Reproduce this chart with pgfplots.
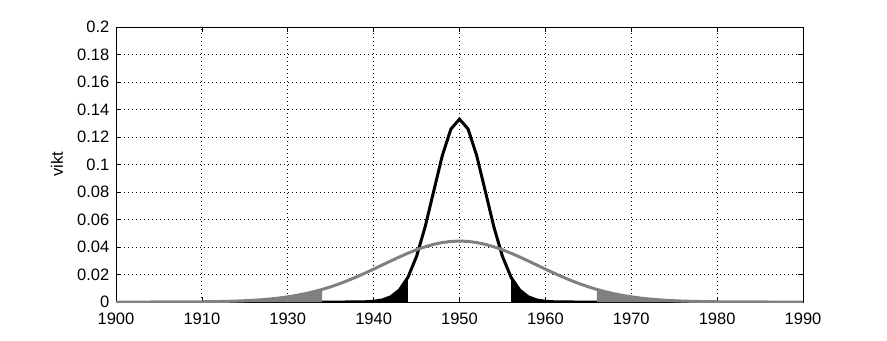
\documentclass[border=0pt]{standalone}
\usepackage{fontspec}
\setmainfont{Liberation Sans}
\usepackage{pgfplots}
\pgfplotsset{compat=1.18}
\definecolor{mgray}{RGB}{128,128,128}
\begin{document}
\fontsize{16.5bp}{19bp}\selectfont
\begin{tikzpicture}
\begin{axis}[
  scale only axis, width=687bp, height=275bp,
  xmin=1910, xmax=1990, ymin=0, ymax=0.2,
  xtick={1910,1920,1930,1940,1950,1960,1970,1980,1990},
  xticklabels={1900,1910,1930,1940,1950,1960,1970,1980,1990},
  ytick={0,0.02,0.04,0.06,0.08,0.1,0.12,0.14,0.16,0.18,0.2},
  yticklabels={0,0.02,0.04,0.06,0.08,0.1,0.12,0.14,0.16,0.18,0.2},
  xticklabel style={yshift=-5bp},
  yticklabel style={xshift=-1bp},
  /pgf/number format/assume math mode=true,
  tick label style={font=\fontsize{16.5bp}{19bp}\selectfont},
  label style={font=\fontsize{16.5bp}{19bp}\selectfont},
  grid=major,
  major grid style={black, line width=0.8bp, dash pattern=on 0.8bp off 3.2bp},
  major tick length=5bp,
  tick align=inside,
  tick style={black, line width=0.7bp},
  axis line style={black, line width=0.8bp},
  ylabel={vikt},
  ylabel style={at={(axis description cs:-0.086,0.5)}, anchor=center},
  clip=true,
]
% gray tails (filled)
\addplot[fill=mgray, draw=none] coordinates {
(1910,0) (1914,0) (1915,0.000023) (1916,0.000035) (1917,0.000053) (1918,0.00008) (1919,0.000118)
(1920,0.00017) (1921,0.00025) (1922,0.00035) (1923,0.00049) (1924,0.00068) (1925,0.00093)
(1926,0.00126) (1927,0.00169) (1928,0.00223) (1929,0.00291) (1930,0.00375) (1931,0.00477)
(1932,0.00600) (1933,0.00745) (1934,0.00913)} \closedcycle;
\addplot[fill=mgray, draw=none] coordinates {
(1966,0.00913) (1967,0.00745) (1968,0.00600) (1969,0.00477) (1970,0.00375) (1971,0.00291)
(1972,0.00223) (1973,0.00169) (1974,0.00126) (1975,0.00093) (1976,0.00068) (1977,0.00049)
(1978,0.00035) (1979,0.00025) (1980,0.00017) (1981,0.000118) (1982,0.00008) (1983,0.000053)
(1984,0.000035) (1985,0.000023) (1986,0) (1990,0)} \closedcycle;
% black tails (filled)
\addplot[fill=black, draw=none] coordinates {
(1934,0) (1937,0.000001) (1938,0.000045) (1939,0.00016) (1940,0.00051) (1941,0.00148)
(1942,0.00380) (1943,0.00874) (1944,0.0180)} \closedcycle;
\addplot[fill=black, draw=none] coordinates {
(1956,0.0180) (1957,0.00874) (1958,0.00380) (1959,0.00148) (1960,0.00051) (1961,0.00016)
(1962,0.000045) (1963,0.000001) (1966,0)} \closedcycle;
% black curve
\addplot[black, line width=3bp, line join=miter] coordinates {
(1934,0) (1935,0) (1936,0) (1937,0.000001) (1938,0.000045) (1939,0.00016) (1940,0.00051)
(1941,0.00148) (1942,0.00380) (1943,0.00874) (1944,0.0180) (1945,0.0332) (1946,0.0547)
(1947,0.0807) (1948,0.1065) (1949,0.1258) (1950,0.1330) (1951,0.1258) (1952,0.1065)
(1953,0.0807) (1954,0.0547) (1955,0.0332) (1956,0.0180) (1957,0.00874) (1958,0.00380)
(1959,0.00148) (1960,0.00051) (1961,0.00016) (1962,0.000045) (1963,0.000001) (1964,0)
(1965,0) (1966,0)};
% gray curve
\addplot[mgray, line width=3bp] coordinates {
(1910,0) (1914,0) (1915,0.000023) (1916,0.000035) (1917,0.000053) (1918,0.00008) (1919,0.000118)
(1920,0.00017) (1921,0.00025) (1922,0.00035) (1923,0.00049) (1924,0.00068) (1925,0.00093)
(1926,0.00126) (1927,0.00169) (1928,0.00223) (1929,0.00291) (1930,0.00375) (1931,0.00477)
(1932,0.00600) (1933,0.00745) (1934,0.00913) (1935,0.01105) (1936,0.01322) (1937,0.01561)
(1938,0.01823) (1939,0.02100) (1940,0.02391) (1941,0.02689) (1942,0.02986) (1943,0.03276)
(1944,0.03550) (1945,0.03799) (1946,0.04016) (1947,0.04193) (1948,0.04325) (1949,0.04406)
(1950,0.04433) (1951,0.04406) (1952,0.04325) (1953,0.04193) (1954,0.04016) (1955,0.03799)
(1956,0.03550) (1957,0.03276) (1958,0.02986) (1959,0.02689) (1960,0.02391) (1961,0.02100)
(1962,0.01823) (1963,0.01561) (1964,0.01322) (1965,0.01105) (1966,0.00913) (1967,0.00745)
(1968,0.00600) (1969,0.00477) (1970,0.00375) (1971,0.00291) (1972,0.00223) (1973,0.00169)
(1974,0.00126) (1975,0.00093) (1976,0.00068) (1977,0.00049) (1978,0.00035) (1979,0.00025)
(1980,0.00017) (1981,0.000118) (1982,0.00008) (1983,0.000053) (1984,0.000035) (1985,0.000023)
(1986,0) (1990,0)};
\end{axis}
\pgfresetboundingbox
\path ([shift={(-116bp,-39bp)}]current axis.south west) rectangle ([shift={(84bp,27bp)}]current axis.north east);
\end{tikzpicture}
\end{document}
